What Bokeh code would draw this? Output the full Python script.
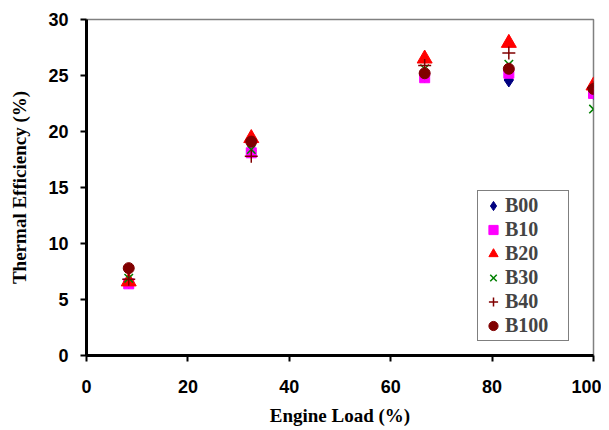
from bokeh.plotting import figure
from bokeh.models import Legend, LegendItem, FixedTicker, Range1d
from bokeh.embed import file_html
from bokeh.resources import INLINE

loads = [8.33, 32.5, 66.7, 83.3, 100]
b00 = [6.6, 18.3, 25.0, 24.6, 23.5]
b10 = [6.4, 18.1, 24.8, 25.2, 23.4]
b20 = [6.6, 19.4, 26.5, 27.9, 24.1]
b30 = [6.9, 18.4, 25.6, 26.0, 22.0]
b40 = [6.8, 17.8, 25.9, 27.0, 23.9]
b100 = [7.8, 19.1, 25.2, 25.6, 23.8]
series_names = ["B00", "B10", "B20", "B30", "B40", "B100"]

p = figure(width=601, height=430, output_backend="svg", toolbar_location=None,
           x_range=Range1d(0, 100), y_range=Range1d(0, 30),
           min_border_left=86, min_border_right=8, min_border_top=19, min_border_bottom=75)
p.xgrid.visible = False
p.ygrid.visible = False
p.outline_line_color = "#808080"
p.outline_line_width = 1.5
p.background_fill_color = "white"

r0 = p.scatter(loads, b00, marker="diamond", size=14, fill_color="#000080", line_color="#000080")
r1 = p.scatter(loads, b10, marker="square", size=10, fill_color="#FF00FF", line_color="#FF00FF")
r2 = p.scatter(loads, b20, marker="triangle", size=15, fill_color="#FF0000", line_color="#FF0000")
r3 = p.scatter(loads, b30, marker="x", size=12, line_color="#008000", line_width=1.5)
r4 = p.scatter(loads, b40, marker="cross", size=13, line_color="#800000", line_width=1.5)
r5 = p.scatter(loads, b100, marker="circle", size=11, fill_color="#800000", line_color="#800000")

items = [LegendItem(label=n, renderers=[r]) for n, r in zip(series_names, [r0, r1, r2, r3, r4, r5])]
leg = Legend(items=items, location=(391, 14), border_line_color="black", border_line_width=1,
             label_text_font="Liberation Serif", label_text_font_style="bold",
             label_text_font_size="20px", label_height=23, glyph_height=23, glyph_width=24,
             label_width=60, spacing=1, padding=3, margin=0, label_standoff=0,
             background_fill_alpha=1)
p.add_layout(leg)

for ax in (p.xaxis[0], p.yaxis[0]):
    ax.axis_line_width = 3
    ax.axis_line_color = "black"
    ax.major_tick_line_width = 2
    ax.major_tick_line_color = "black"
    ax.major_tick_out = 6
    ax.major_tick_in = 0
    ax.minor_tick_line_color = None
    ax.major_label_text_font = "Liberation Sans"
    ax.major_label_text_font_style = "bold"
    ax.major_label_text_font_size = "18px"
    ax.major_label_text_color = "black"
    ax.axis_label_text_font = "Liberation Serif"
    ax.axis_label_text_font_style = "bold"
    ax.axis_label_text_font_size = "19px"
    ax.axis_label_text_color = "black"

p.xaxis.ticker = FixedTicker(ticks=[0, 20, 40, 60, 80, 100])
p.yaxis.ticker = FixedTicker(ticks=[0, 5, 10, 15, 20, 25, 30])
p.xaxis.axis_label = "Engine Load (%)"
p.yaxis.axis_label = "Thermal Efficiency (%)"
p.xaxis.major_label_standoff = 18
p.xaxis.axis_label_standoff = 9
p.yaxis.major_label_standoff = 12
p.yaxis.axis_label_standoff = 15

open("out.html", "w").write(file_html(p, INLINE))
